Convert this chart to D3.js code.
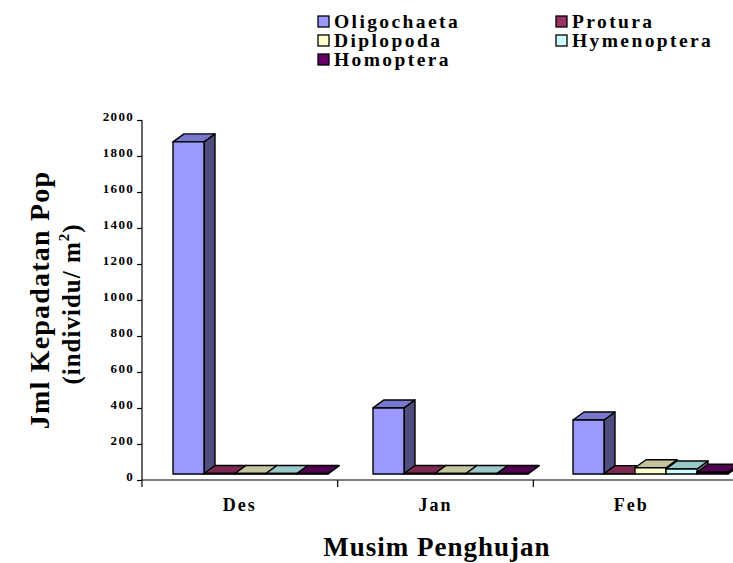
<!DOCTYPE html>
<html>
<head>
<meta charset="utf-8">
<script src="https://cdn.jsdelivr.net/npm/d3@7"></script>
<style>
  html, body { margin: 0; padding: 0; background: #ffffff; }
  svg { display: block; }
</style>
</head>
<body>
<svg id="chart" width="733" height="563"></svg>
<script>
// Months of the rainy season
const categories = ["Des", "Jan", "Feb"];
// Soil fauna groups
const seriesNames = ["Oligochaeta", "Protura", "Diplopoda", "Hymenoptera", "Homoptera"];
// Population density (individu/m2) per month
const oligochaeta = [1845, 367, 300];
const protura = [3, 3, 2];
const diplopoda = [3, 3, 35];
const hymenoptera = [3, 3, 28];
const homoptera = [3, 3, 10];
const yTicks = [0, 200, 400, 600, 800, 1000, 1200, 1400, 1600, 1800, 2000];

const SERIF = "'Liberation Serif', 'Times New Roman', Times, serif";

const seriesValues = [oligochaeta, protura, diplopoda, hymenoptera, homoptera];
const palette = {
  Oligochaeta: { front: "#9999ff", top: "#7878cc", side: "#4d4d80" },
  Protura:     { front: "#993366", top: "#7a2952", side: "#4d1a33" },
  Diplopoda:   { front: "#ffffcc", top: "#c4c49c", side: "#808066" },
  Hymenoptera: { front: "#ccffff", top: "#99c8c8", side: "#668080" },
  Homoptera:   { front: "#660066", top: "#520052", side: "#330033" }
};

const svg = d3.select("#chart");

function styleText(sel, size, spacing) {
  return sel.attr("font-family", SERIF).style("font-family", SERIF)
    .style("font-weight", "bold").style("font-size", size + "px")
    .style("letter-spacing", spacing + "px").attr("fill", "#000");
}

// Value axis (front plane) and bar plane (set back in depth)
const depthX = 11, depthY = 8;
const y = d3.scaleLinear().domain([0, 2000]).range([480, 120]);
const yBar = d3.scaleLinear().domain([0, 2000]).range([474, 114]);

// Category axis along the front edge of the floor
const xAxisScale = d3.scaleBand().domain(categories).range([142, 729]);
// Category slots on the plane where the columns stand
const xGroup = d3.scaleBand().domain(categories).range([150.5, 750.5])
  .paddingInner(0.225).paddingOuter(0.1125);
const xSeries = d3.scaleBand().domain(seriesNames).range([0, xGroup.bandwidth()]);

// Columns
const bars = [];
categories.forEach((c, ci) => {
  seriesNames.forEach((s, si) => {
    bars.push({ cat: c, name: s, value: seriesValues[si][ci] });
  });
});

const gBars = svg.append("g");
bars.forEach(d => {
  const x0 = xGroup(d.cat) + xSeries(d.name);
  const w = xSeries.bandwidth();
  const yb = yBar(0), yt = yBar(d.value);
  const col = palette[d.name];
  const g = gBars.append("g")
    .attr("stroke", "#000").attr("stroke-width", 1.4).attr("stroke-linejoin", "round");
  // right side face
  g.append("polygon")
    .attr("points", [[x0 + w, yt], [x0 + w + depthX, yt - depthY], [x0 + w + depthX, yb - depthY], [x0 + w, yb]].join(" "))
    .attr("fill", col.side);
  // top face
  g.append("polygon")
    .attr("points", [[x0, yt], [x0 + depthX, yt - depthY], [x0 + w + depthX, yt - depthY], [x0 + w, yt]].join(" "))
    .attr("fill", col.top);
  // front face
  g.append("rect")
    .attr("x", x0).attr("y", yt).attr("width", w).attr("height", yb - yt)
    .attr("fill", col.front);
});

// Value axis
const yAxis = svg.append("g").attr("transform", "translate(142,0)")
  .call(d3.axisLeft(y).tickValues(yTicks).tickSize(5).tickPadding(3).tickFormat(d3.format("d")));
yAxis.attr("font-family", SERIF);
yAxis.select(".domain").attr("d", "M0,120V487").attr("stroke", "#000").attr("stroke-width", 1.2);
yAxis.selectAll(".tick line").attr("stroke", "#000").attr("stroke-width", 1.2);
styleText(yAxis.selectAll(".tick text"), 13, 1.3).attr("dy", "0.05em");

// Category axis
const xAxis = svg.append("g").attr("transform", "translate(0,480)");
xAxis.append("line").attr("x1", 142).attr("x2", 733).attr("y1", 0).attr("y2", 0)
  .attr("stroke", "#000").attr("stroke-width", 1.2);
xAxis.selectAll("line.tick").data(categories.slice(1)).join("line")
  .attr("class", "tick")
  .attr("x1", d => xAxisScale(d)).attr("x2", d => xAxisScale(d))
  .attr("y1", 0).attr("y2", 7).attr("stroke", "#000").attr("stroke-width", 1.2);
styleText(xAxis.selectAll("text").data(categories).join("text"), 18, 2)
  .attr("x", d => xAxisScale(d) + xAxisScale.bandwidth() / 2)
  .attr("y", 31)
  .attr("text-anchor", "middle")
  .text(d => d);

// Axis titles
styleText(svg.append("text"), 27, 1)
  .attr("x", 437).attr("y", 556).attr("text-anchor", "middle")
  .text("Musim Penghujan");

const yTitle = svg.append("g").attr("transform", "translate(49,300) rotate(-90)");
styleText(yTitle.append("text"), 28, 1.2)
  .attr("x", 0).attr("y", 0).attr("text-anchor", "middle")
  .text("Jml Kepadatan Pop");
const t2 = styleText(yTitle.append("text"), 25, 1)
  .attr("x", -4).attr("y", 31).attr("text-anchor", "middle");
t2.append("tspan").text("(individu/ m");
t2.append("tspan").attr("dy", -11).style("font-size", "15px").text("2");
t2.append("tspan").attr("dy", 11).text(")");

// Legend
const legendPos = [[318, 22], [556, 22], [318, 41], [556, 41], [318, 60]];
const legend = svg.append("g");
seriesNames.forEach((s, i) => {
  const [lx, ly] = legendPos[i];
  legend.append("rect").attr("x", lx).attr("y", ly - 6).attr("width", 11).attr("height", 11)
    .attr("fill", palette[s].front).attr("stroke", "#000").attr("stroke-width", 1.3);
  styleText(legend.append("text"), 19.5, 2.4)
    .attr("x", lx + 16).attr("y", ly + 6)
    .text(s);
});
</script>
</body>
</html>
